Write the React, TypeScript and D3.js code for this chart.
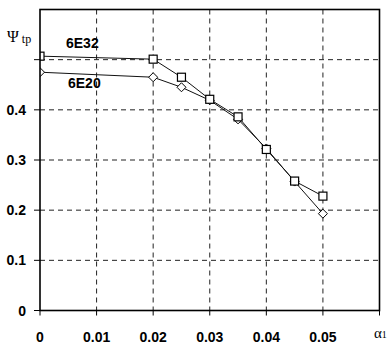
import React from "react";
import * as d3 from "d3";

const alphaValues = [0, 0.02, 0.025, 0.03, 0.035, 0.04, 0.045, 0.05];
const series6E32 = [0.507, 0.501, 0.465, 0.421, 0.386, 0.321, 0.258, 0.228];
const series6E20 = [0.475, 0.465, 0.445, 0.419, 0.381, 0.323, 0.257, 0.193];
const xTicks = [0, 0.01, 0.02, 0.03, 0.04, 0.05, 0.06];
const xTickLabels = ["0", "0.01", "0.02", "0.03", "0.04", "0.05"];
const yTicks = [0, 0.1, 0.2, 0.3, 0.4, 0.5, 0.6];
const yTickLabels = ["0", "0.1", "0.2", "0.3", "0.4"];

const W = 392;
const H = 345;
const left = 40;
const right = 379.5;
const top = 9.5;
const bottom = 310.5;

export default function App() {
  const x = d3.scaleLinear().domain([0, 0.06]).range([left, right]);
  const y = d3.scaleLinear().domain([0, 0.6]).range([bottom, top]);
  const line = d3
    .line<number>()
    .x((_, i) => x(alphaValues[i]))
    .y((v) => y(v));

  const labelFont = "'Liberation Sans', Arial, sans-serif";
  const serif = "'Liberation Serif', 'Times New Roman', serif";
  const sq = 4;
  const dm = 4.5;

  return (
    <svg
      width={W}
      height={H}
      style={{ position: "absolute", left: 0, top: 0, background: "#fff" }}
    >
      <defs>
        <clipPath id="plotClip">
          <rect x={left} y={top} width={right - left} height={bottom - top} />
        </clipPath>
      </defs>
      <rect x={0} y={0} width={W} height={H} fill="#fff" />

      {/* dashed grid */}
      <g stroke="#222" strokeWidth={1} strokeDasharray="5,4">
        {xTicks.slice(1, -1).map((t) => (
          <line key={"gx" + t} x1={x(t)} x2={x(t)} y1={top} y2={bottom} />
        ))}
        {yTicks.slice(1, -1).map((t) => (
          <line key={"gy" + t} x1={left} x2={right} y1={y(t)} y2={y(t)} />
        ))}
      </g>

      {/* tick marks outside the frame */}
      <g stroke="#000" strokeWidth={1}>
        {yTicks.slice(0, -1).map((t) => (
          <line key={"ty" + t} x1={left - 6} x2={left} y1={y(t)} y2={y(t)} />
        ))}
        {xTicks.map((t) => (
          <line key={"tx" + t} x1={x(t)} x2={x(t)} y1={bottom} y2={bottom + 5} />
        ))}
      </g>

      {/* series */}
      <g clipPath="url(#plotClip)">
        <path d={line(series6E32) || ""} fill="none" stroke="#111" strokeWidth={1} />
        <path d={line(series6E20) || ""} fill="none" stroke="#111" strokeWidth={1} />
        {series6E20.map((v, i) => {
          const cx = x(alphaValues[i]);
          const cy = y(v);
          return (
            <path
              key={"d" + i}
              d={`M${cx},${cy - dm}L${cx + dm},${cy}L${cx},${cy + dm}L${cx - dm},${cy}Z`}
              fill="#fff"
              stroke="#000"
              strokeWidth={1}
            />
          );
        })}
        {series6E32.map((v, i) => (
          <rect
            key={"s" + i}
            x={x(alphaValues[i]) - sq}
            y={y(v) - sq}
            width={sq * 2}
            height={sq * 2}
            fill="#fff"
            stroke="#000"
            strokeWidth={1.2}
          />
        ))}
      </g>

      {/* frame */}
      <rect
        x={left}
        y={top}
        width={right - left}
        height={bottom - top}
        fill="none"
        stroke="#000"
        strokeWidth={1.6}
      />

      {/* tick labels */}
      <g fontFamily={labelFont} fontWeight="bold" fontSize={14} fill="#000">
        {yTickLabels.map((lab, i) => (
          <text key={"yl" + i} x={26} y={y(yTicks[i]) + 5} textAnchor="end">
            {lab}
          </text>
        ))}
        {xTickLabels.map((lab, i) => (
          <text key={"xl" + i} x={x(xTicks[i])} y={342} textAnchor="middle">
            {lab}
          </text>
        ))}
        <text x={66} y={48}>6E32</text>
        <text x={68} y={88}>6E20</text>
      </g>

      {/* axis titles */}
      <text x={7} y={42} fontFamily={serif} fontSize={16}>
        Ψ
        <tspan fontSize={12} dx={3} dy={1}>tp</tspan>
      </text>
      <text x={374} y={338} fontFamily={serif} fontSize={15}>
        α
        <tspan fontSize={10}>1</tspan>
      </text>
    </svg>
  );
}
